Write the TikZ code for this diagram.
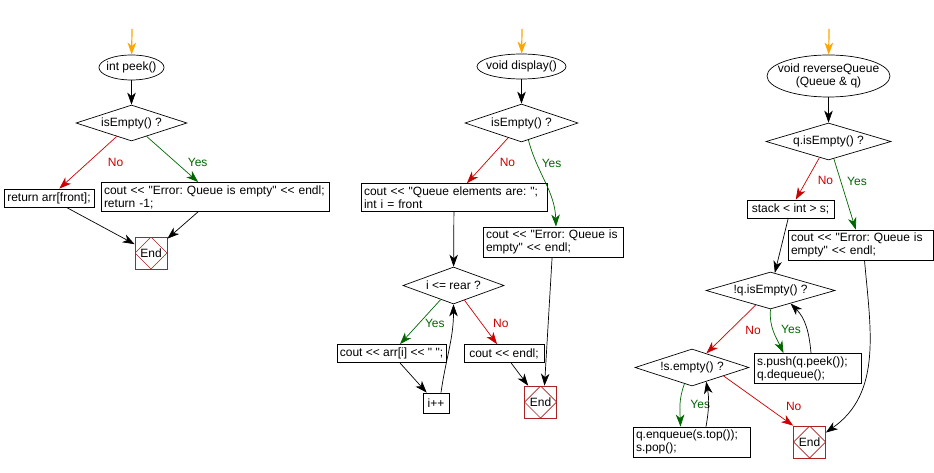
\documentclass[tikz,border=0pt]{standalone}
\usepackage{fontspec}
\setmainfont{Liberation Sans}[Ligatures=TeXOff]
\frenchspacing
\usetikzlibrary{shapes.geometric,arrows.meta}
\definecolor{noRed}{RGB}{204,0,0}
\definecolor{yesGreen}{RGB}{0,102,0}
\definecolor{endRed}{RGB}{170,34,34}
\definecolor{startOrange}{RGB}{255,165,0}

\begin{document}
\begin{tikzpicture}[x=1pt,y=1pt,font=\fontsize{12}{13}\selectfont,line width=0.7pt,
	>={Stealth[length=12pt,width=8.5pt,inset=3.5pt]},
	term/.style={ellipse,draw,inner sep=0pt,align=center},
	test/.style={diamond,draw,aspect=3.2,inner sep=0pt},
	stmt/.style={rectangle,draw,align=left,inner xsep=3pt,inner ysep=3pt,minimum height=18pt},
	stop/.style={rectangle,draw=endRed,minimum size=32pt,inner sep=0pt,
		path picture={\draw[endRed] (path picture bounding box.north) -- (path picture bounding box.east)
			-- (path picture bounding box.south) -- (path picture bounding box.west) -- cycle;}},
	lbl/.style={inner sep=1pt}]
	\useasboundingbox (0,0) rectangle (934,-473);

	% int peek()
	\coordinate (p0) at (132,-29);
	\node[term,minimum width=65pt,minimum height=25pt,inner xsep=-2pt] (peek) at (131.5,-67.5) {int peek()};
	\node[test,minimum width=111pt,minimum height=36pt] (pEmpty) at (131.5,-123) {isEmpty() ?};
	\node[stmt,minimum width=90pt] (pFront) at (49,-198) {return arr[front];};
	\node[stmt,text width=222pt] (pErr) at (215,-197) {cout << "Error: Queue is empty" << endl;\\return -1;};
	\node[stop] (pEnd) at (151,-253) {End};

	% void display()
	\coordinate (d0) at (522,-29);
	\node[term,minimum width=89pt,minimum height=25pt,inner xsep=-4pt] (disp) at (521.5,-66.5) {void display()};
	\node[test,minimum width=113pt,minimum height=38pt] (dEmpty) at (521.5,-123) {isEmpty() ?};
	\node[stmt,text width=180pt] (dInit) at (454,-197.5) {cout << "Queue elements are: ";\\int i = front};
	\node[stmt,text width=134pt] (dErr) at (553,-242) {cout << "Error: Queue is\\empty" << endl;};
	\node[test,minimum width=101pt,minimum height=37pt] (dRear) at (453.5,-285.5) {i <= rear ?};
	\node[stmt,minimum width=109pt] (dOut) at (391.5,-353.5) {cout << arr[i] << " ";};
	\node[stmt,minimum width=26pt,minimum height=20pt] (dInc) at (436,-403) {i++};
	\node[stmt,minimum width=80pt] (dNl) at (504,-353.5) {cout << endl;};
	\node[stop] (dEnd) at (540.5,-402) {End};

	% void reverseQueue(Queue & q)
	\coordinate (r0) at (829,-29);
	\node[term,minimum width=123pt,minimum height=42pt,inner xsep=-7.5pt] (rev) at (828.5,-76) {void reverseQueue\\(Queue \& q)};
	\node[test,minimum width=125pt,minimum height=37pt] (rEmpty) at (828.5,-141.5) {q.isEmpty() ?};
	\node[stmt,minimum width=87pt] (rStack) at (790.5,-209) {stack < int > s;};
	\node[stmt,text width=139pt] (rErr) at (860.5,-245) {cout << "Error: Queue is\\empty" << endl;};
	\node[test,minimum width=129pt,minimum height=37pt] (rNotQ) at (770.5,-290.5) {!q.isEmpty() ?};
	\node[stmt,text width=101pt] (rPush) at (807.5,-368.5) {s.push(q.peek());\\q.dequeue();};
	\node[test,minimum width=114pt,minimum height=37pt] (rNotS) at (692,-367.5) {!s.empty() ?};
	\node[stmt,text width=111pt] (rEnq) at (691.5,-442) {q.enqueue(s.top());\\s.pop();};
	\node[stop] (rEnd) at (809.5,-442) {End};

	\path[->,startOrange,line width=1.2pt]
	(p0) edge (peek)
	(d0) edge (disp)
	(r0) edge (rev);

	\path[->]
	(peek) edge (pEmpty)
	(pEmpty) edge[noRed] node[lbl,pos=.49,right=18pt] {No} (pFront)
	(pEmpty) edge[yesGreen] node[lbl,pos=.58,right=10pt] {Yes} (pErr)
	(pFront) edge (pEnd)
	(pErr) edge (pEnd)

	(disp) edge (dEmpty)
	(dEmpty) edge[noRed] node[lbl,pos=.55,right=13pt] {No} (dInit)
	(dEmpty.-68) edge[yesGreen,out=-75,in=92] node[lbl,pos=.25,right=4pt] {Yes} ([xshift=3pt]dErr.north)
	(dInit) edge (dRear)
	(dRear) edge[yesGreen] node[lbl,pos=.54,right=5pt] {Yes} (dOut)
	(dRear) edge[noRed] node[lbl,pos=.53,right=10pt] {No} (dNl)
	(dOut) edge (dInc)
	([xshift=5pt]dInc.north) edge[out=82,in=-90] (dRear.south)
	(dNl) edge (dEnd)
	(dErr) edge ([xshift=4pt]dEnd.north)

	(rev) edge (rEmpty)
	(rEmpty) edge[noRed] node[lbl,pos=.55,right=10pt] {No} (rStack)
	(rEmpty) edge[yesGreen] node[lbl,pos=.32,right=5pt] {Yes} (rErr)
	(rStack) edge (rNotQ)
	(rNotQ) edge[noRed] node[lbl,pos=.52,right=14pt] {No} (rNotS)
	(rNotQ.south) edge[yesGreen,out=-95,in=115] node[lbl,pos=.45,right=7pt] {Yes} ([xshift=-24pt]rPush.north)
	([xshift=3.5pt]rPush.north) edge[out=95,in=-45] (rNotQ.-33)
	(rNotS.-115) edge[yesGreen,out=-110,in=92] node[lbl,pos=.5,right=9pt] {Yes} ([xshift=-11pt]rEnq.north)
	([xshift=14.5pt]rEnq.north) edge[out=80,in=-80] (rNotS.-45)
	(rNotS.-15) edge[noRed] node[lbl,pos=.62,right=18pt] {No} (rEnd.north west)
	([xshift=4pt]rErr.south) edge[out=-85,in=35] (rEnd.30);
\end{tikzpicture}
\end{document}
